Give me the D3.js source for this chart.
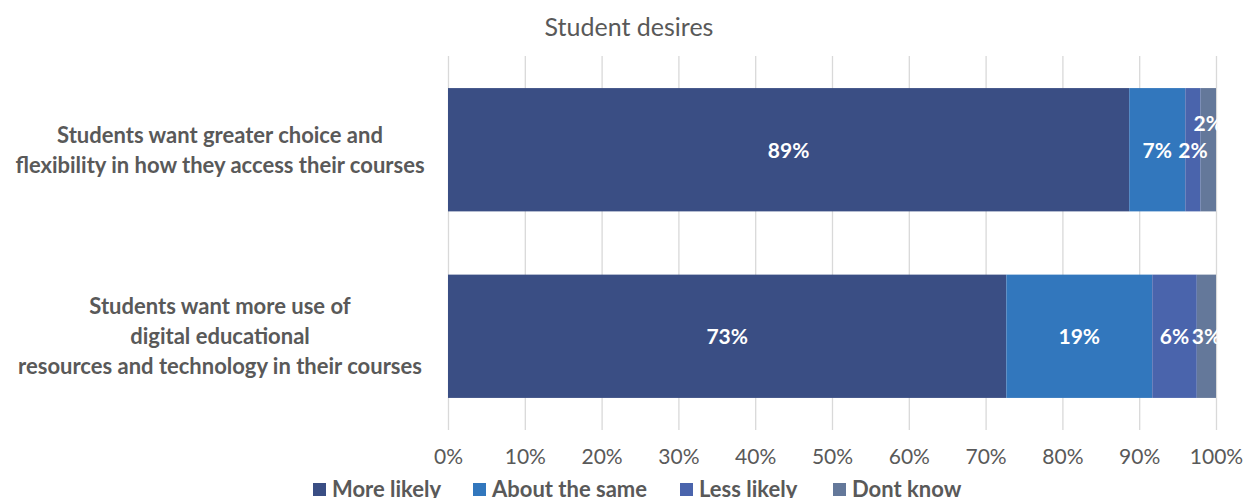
<!DOCTYPE html>
<html>
<head>
<meta charset="utf-8">
<script src="https://cdn.jsdelivr.net/npm/d3@7"></script>
<style>
  html, body { margin: 0; padding: 0; background: #fff; }
  svg { display: block; font-family: Lato, "Open Sans", sans-serif; }
</style>
</head>
<body>
<svg id="chart" width="1243" height="498"></svg>
<script>
// Survey categories (each label line is its own entry)
const categories = [
  ["Students want greater choice and", "flexibility in how they access their courses"],
  ["Students want more use of", "digital educational", "resources and technology in their courses"]
];
const seriesNames = ["More likely", "About the same", "Less likely", "Dont know"];
const seriesColors = ["#3a4e84", "#3277bd", "#4a64ac", "#64789a"];
// Share of respondents (%) per category, one array per series
const moreLikely   = [88.7, 72.7];
const aboutSame    = [7.3, 19.0];
const lessLikely   = [2.0, 5.8];
const dontKnow     = [2.0, 2.5];
const tickValues   = [0, 10, 20, 30, 40, 50, 60, 70, 80, 90, 100];

const series = [moreLikely, aboutSame, lessLikely, dontKnow];
const rows = categories.map((c, i) => {
  const r = { key: i };
  seriesNames.forEach((s, j) => r[s] = series[j][i]);
  return r;
});
const stacked = d3.stack().keys(seriesNames)(rows);

const svg = d3.select("#chart");
const textGray = "#595959";

const x = d3.scaleLinear().domain([0, 100]).range([448, 1216]);
const y = d3.scaleBand().domain(d3.range(categories.length))
  .range([56, 430]).paddingInner(0.339).paddingOuter(0.172);

// Title
svg.append("text")
  .attr("x", 629).attr("y", 36)
  .attr("text-anchor", "middle")
  .attr("fill", textGray)
  .style("font-size", "25px")
  .text("Student desires");

// Vertical gridlines + tick labels
const xAxis = d3.axisBottom(x).tickValues(tickValues)
  .tickSize(-(430 - 56)).tickFormat(d => d + "%").tickPadding(19);
const gx = svg.append("g").attr("transform", "translate(0,430)").call(xAxis);
gx.select(".domain").remove();
gx.selectAll(".tick line").attr("stroke", "#d9d9d9").attr("stroke-width", 1.3);
gx.selectAll(".tick text").attr("fill", textGray)
  .style("font-size", "21px").style("font-family", "Lato, 'Open Sans', sans-serif");

// Category labels
const catG = svg.append("g");
categories.forEach((lines, i) => {
  const cy = y(i) + y.bandwidth() / 2;
  const lh = 30;
  const t = catG.append("text")
    .attr("text-anchor", "middle")
    .attr("fill", textGray)
    .style("font-size", "22px").style("font-weight", "bold");
  lines.forEach((ln, k) => {
    t.append("tspan").attr("x", 220)
      .attr("y", cy + (k - (lines.length - 1) / 2) * lh + 8)
      .text(ln);
  });
});

// Stacked bars
const layer = svg.append("g").selectAll("g").data(stacked).join("g")
  .attr("fill", (d, i) => seriesColors[i]);
layer.selectAll("rect").data(d => d).join("rect")
  .attr("x", d => x(d[0]))
  .attr("width", d => x(d[1]) - x(d[0]))
  .attr("y", (d, i) => y(i))
  .attr("height", y.bandwidth());

// Value labels, clipped to the plot area
svg.append("clipPath").attr("id", "plotClip")
  .append("rect").attr("x", 448).attr("y", 56).attr("width", 1217 - 448).attr("height", 374);
const lblG = svg.append("g").attr("clip-path", "url(#plotClip)");
stacked.forEach((s, si) => {
  s.forEach((d, i) => {
    const v = series[si][i];
    let cy = y(i) + y.bandwidth() / 2 + 8;
    // the narrow last segment of the first bar is lifted to avoid overlap
    if (si === 3 && i === 0) cy -= 27;
    lblG.append("text")
      .attr("x", (x(d[0]) + x(d[1])) / 2)
      .attr("y", cy)
      .attr("text-anchor", "middle")
      .attr("fill", "#fff")
      .style("font-size", "21px").style("font-weight", "bold")
      .text(Math.round(v) + "%");
  });
});

// Legend
const legendX = [313, 473, 680, 833];
const lg = svg.append("g");
seriesNames.forEach((name, i) => {
  lg.append("rect").attr("x", legendX[i]).attr("y", 483).attr("width", 13).attr("height", 13)
    .attr("fill", seriesColors[i]);
  lg.append("text").attr("x", legendX[i] + 19).attr("y", 497)
    .attr("fill", textGray)
    .style("font-size", "22px").style("font-weight", "bold")
    .text(name);
});
</script>
</body>
</html>
